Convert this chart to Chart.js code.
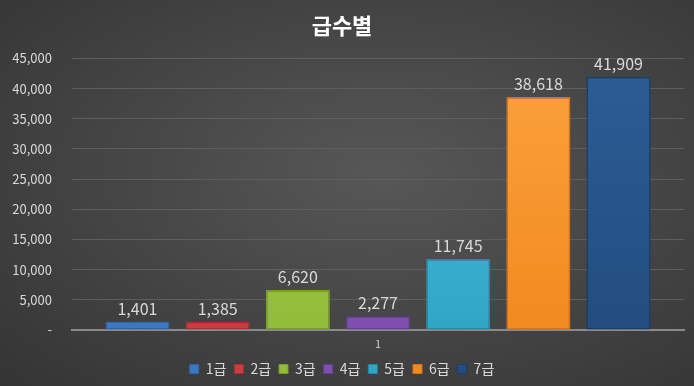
<!DOCTYPE html>
<html lang="ko">
<head>
  <meta charset="UTF-8">
  <title>급수별</title>
  <script src="https://cdn.jsdelivr.net/npm/chart.js"></script>
  <style>
    html, body { margin: 0; padding: 0; }
    body {
      width: 694px; height: 386px; overflow: hidden;
      background: radial-gradient(ellipse at 55% 45%, #575757 0%, #474747 45%, #343434 100%);
    }
    #wrap { width: 694px; height: 386px; }
  </style>
</head>
<body>
  <div id="wrap"><canvas id="gradeChart"></canvas></div>

  <script>
    // 데이터
    const categories = ['1'];
    const seriesNames = ['1급', '2급', '3급', '4급', '5급', '6급', '7급'];
    const seriesValues = [1401, 1385, 6620, 2277, 11745, 38618, 41909];
    const yTicks = [0, 5000, 10000, 15000, 20000, 25000, 30000, 35000, 40000, 45000];

    const colors = [
      ['#5a9be0', '#3a78c4', '#2f63a6'],
      ['#e25a5d', '#c93c40', '#a83034'],
      ['#a9cf4f', '#93bb3a', '#799c2c'],
      ['#9a6cc9', '#7e4fae', '#663e91'],
      ['#4cc3e0', '#2fa6c6', '#2589a6'],
      ['#fba23e', '#f28a1f', '#d5731a'],
      ['#2c5d96', '#224d80', '#1a3c66']
    ];

    const fmt = v => v.toLocaleString('en-US');

    function barFill(i) {
      return function (ctx) {
        const area = ctx.chart.chartArea;
        if (!area) return colors[i][1];
        const g = ctx.chart.ctx.createLinearGradient(0, area.top, 0, area.bottom);
        g.addColorStop(0, colors[i][0]);
        g.addColorStop(1, colors[i][1]);
        return g;
      };
    }

    // 값 라벨 그리기
    const valueLabels = {
      id: 'valueLabels',
      afterDatasetsDraw(chart) {
        const c = chart.ctx;
        c.save();
        c.font = '16px "Noto Sans CJK KR", sans-serif';
        c.fillStyle = '#d9d9d9';
        c.textAlign = 'center';
        c.textBaseline = 'bottom';
        chart.data.datasets.forEach((ds, i) => {
          const bar = chart.getDatasetMeta(i).data[0];
          c.fillText(fmt(ds.data[0]), bar.x, bar.y - 5);
        });
        c.restore();
      }
    };

    const datasets = seriesNames.map((name, i) => ({
      label: name,
      data: [seriesValues[i]],
      backgroundColor: barFill(i),
      borderColor: colors[i][2],
      borderWidth: 1.5,
      borderSkipped: false
    }));

    new Chart(document.getElementById('gradeChart'), {
      type: 'bar',
      data: { labels: categories, datasets: datasets },
      plugins: [valueLabels],
      options: {
        responsive: true,
        maintainAspectRatio: false,
        animation: false,
        layout: { padding: { left: 0, right: 10, top: 8, bottom: 0 } },
        datasets: { bar: { categoryPercentage: 0.917, barPercentage: 0.8 } },
        plugins: {
          title: {
            display: true,
            text: '급수별',
            color: '#ffffff',
            font: { family: '"Noto Sans CJK KR", sans-serif', size: 22, weight: 'bold' },
            padding: { top: 4, bottom: 20 }
          },
          legend: {
            position: 'bottom',
            labels: {
              color: '#d9d9d9',
              boxWidth: 9,
              boxHeight: 9,
              padding: 8,
              font: { family: '"Noto Sans CJK KR", sans-serif', size: 14 },
              generateLabels(chart) {
                return seriesNames.map((n, i) => ({
                  text: n,
                  fillStyle: colors[i][1],
                  strokeStyle: colors[i][2],
                  lineWidth: 1,
                  fontColor: '#d9d9d9',
                  datasetIndex: i
                }));
              }
            }
          },
          tooltip: { enabled: false }
        },
        scales: {
          x: {
            grid: { display: false },
            border: { color: '#8a8a8a', width: 2 },
            afterFit(axis) { axis.height += 4; },
            ticks: {
              color: '#d9d9d9',
              font: { family: '"Noto Sans CJK KR", sans-serif', size: 10 },
              padding: 0
            }
          },
          y: {
            min: 0,
            max: 45000,
            afterBuildTicks(axis) { axis.ticks = yTicks.map(v => ({ value: v })); },
            afterFit(axis) { axis.width = 72; },
            grid: { color: '#5e5e5e', drawTicks: false },
            border: { display: false },
            ticks: {
              color: '#d9d9d9',
              padding: 20,
              font: { family: '"Noto Sans CJK KR", sans-serif', size: 13 },
              callback: v => (v === 0 ? '-' : fmt(v))
            }
          }
        }
      }
    });
  </script>
</body>
</html>
